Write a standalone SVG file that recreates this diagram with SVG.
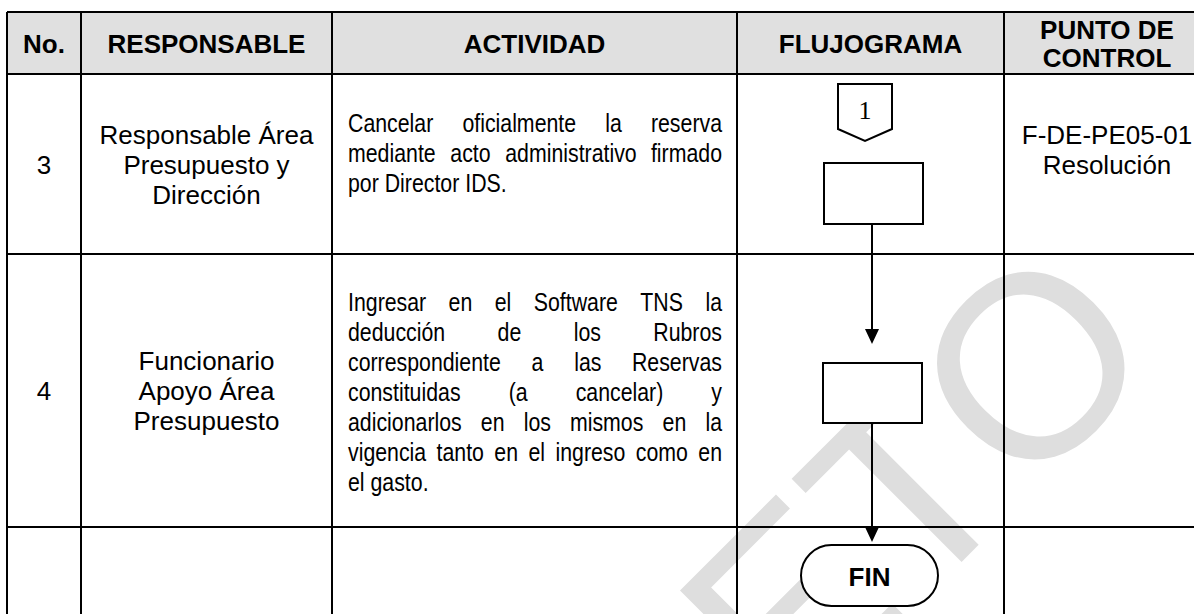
<svg xmlns="http://www.w3.org/2000/svg" width="1194" height="614" viewBox="0 0 1194 614">
<defs>
<style>
.grid{stroke:#000;stroke-width:2;fill:none}
.hdr{font-family:"Liberation Sans",Arial,sans-serif;font-weight:bold;font-size:26px;fill:#000;text-anchor:middle}
.body{font-family:"Liberation Sans",Arial,sans-serif;font-size:26px;fill:#000;text-anchor:middle}
.act{font-family:"Liberation Sans",Arial,sans-serif;font-size:26px;fill:#000}
.e{text-anchor:end}
.shape{fill:#fff;stroke:#000;stroke-width:2}
.conn{stroke:#000;stroke-width:2;fill:none}
.head{fill:#000}
.wm{font-family:"Liberation Sans",Arial,sans-serif;font-size:260px;fill:#dedede}
</style>
</defs>
<rect width="1194" height="614" fill="#fff"/>
<g id="watermark">
<text class="wm" text-anchor="end" transform="translate(1166 357.5) rotate(-45)">OBSOLETO</text>
</g>
<g id="table">
<rect x="7" y="12" width="1205" height="62" fill="#e0e0e0"/>
<path class="grid" d="M7 12H1212M7 74H1212M7 254H1212M7 527H1212M7 12V620M81 12V620M332 12V620M737 12V620M1004 12V620"/>
</g>
<g id="header">
<text class="hdr" x="44" y="53">No.</text>
<text class="hdr" x="206.5" y="53">RESPONSABLE</text>
<text class="hdr" x="534.5" y="53">ACTIVIDAD</text>
<text class="hdr" x="870.5" y="53">FLUJOGRAMA</text>
<text class="hdr" x="1107" y="39">PUNTO DE</text>
<text class="hdr" x="1107" y="67">CONTROL</text>
</g>
<g id="row3">
<text class="body" x="44" y="174">3</text>
<text class="body" x="206.5" y="144">Responsable Área</text>
<text class="body" x="206.5" y="174">Presupuesto y</text>
<text class="body" x="206.5" y="204">Dirección</text>
<g transform="translate(348 0) scale(0.82 1)">
<text class="act" y="132"><tspan x="0">Cancelar</tspan><tspan x="139.5">oficialmente</tspan><tspan x="313.7">la</tspan><tspan class="e" x="456.1">reserva</tspan></text>
<text class="act" y="162"><tspan x="0">mediante</tspan><tspan x="124.8">acto</tspan><tspan x="191.7">administrativo</tspan><tspan class="e" x="456.1">firmado</tspan></text>
<text class="act" x="0" y="192">por Director IDS.</text>
</g>
<text class="body" x="1107" y="144">F-DE-PE05-01</text>
<text class="body" x="1107" y="174">Resolución</text>
</g>
<g id="row4">
<text class="body" x="44" y="400">4</text>
<text class="body" x="206.5" y="370">Funcionario</text>
<text class="body" x="206.5" y="400">Apoyo Área</text>
<text class="body" x="206.5" y="430">Presupuesto</text>
<g transform="translate(348 0) scale(0.82 1)">
<text class="act" y="311"><tspan x="0">Ingresar</tspan><tspan x="122.7">en</tspan><tspan x="179">el</tspan><tspan x="226.6">Software</tspan><tspan x="356.5">TNS</tspan><tspan class="e" x="456.1">la</tspan></text>
<text class="act" y="341"><tspan x="0">deducción</tspan><tspan x="182.4">de</tspan><tspan x="275.2">los</tspan><tspan class="e" x="456.1">Rubros</tspan></text>
<text class="act" y="371"><tspan x="0">correspondiente</tspan><tspan x="223.9">a</tspan><tspan x="275.9">las</tspan><tspan class="e" x="456.1">Reservas</tspan></text>
<text class="act" y="401"><tspan x="0">constituidas</tspan><tspan x="195.9">(a</tspan><tspan x="277.6">cancelar)</tspan><tspan class="e" x="456.1">y</tspan></text>
<text class="act" y="431"><tspan x="0">adicionarlos</tspan><tspan x="162">en</tspan><tspan x="214.3">los</tspan><tspan x="270.7">mismos</tspan><tspan x="383.7">en</tspan><tspan class="e" x="456.1">la</tspan></text>
<text class="act" y="461"><tspan x="0">vigencia</tspan><tspan x="108">tanto</tspan><tspan x="178.5">en</tspan><tspan x="220.1">el</tspan><tspan x="253">ingreso</tspan><tspan x="351">como</tspan><tspan class="e" x="456.1">en</tspan></text>
<text class="act" x="0" y="491">el gasto.</text>
</g>
</g>
<g id="connectors">
<line class="conn" x1="872" y1="224" x2="872" y2="330"/>
<polygon class="head" points="865,329 879,329 872,344"/>
<line class="conn" x1="872" y1="423" x2="872" y2="528"/>
<polygon class="head" points="865,527 879,527 872,542"/>
</g>
<g id="node-connector-1">
<polygon class="shape" stroke-width="1.5" points="838,84 892,84 892,129 865,141 838,129"/>
<text x="865" y="119" font-family="'Liberation Serif','Times New Roman',serif" font-size="26" text-anchor="middle">1</text>
</g>
<g id="node-step3">
<rect class="shape" x="824" y="163" width="99" height="61"/>
</g>
<g id="node-step4">
<rect class="shape" x="823" y="363" width="99" height="60"/>
</g>
<g id="node-fin">
<rect class="shape" x="801" y="545" width="137" height="61" rx="30.5"/>
<text class="hdr" x="869.5" y="586" font-size="25">FIN</text>
</g>
</svg>
